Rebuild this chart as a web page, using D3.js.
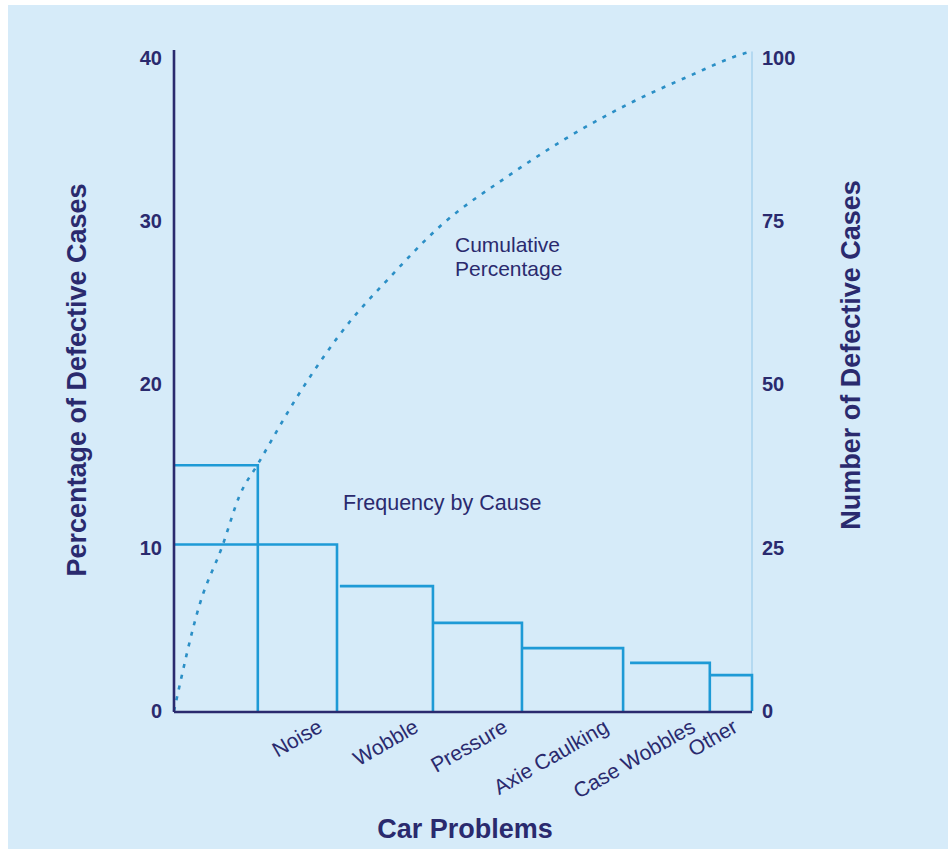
<!DOCTYPE html>
<html>
<head>
<meta charset="utf-8">
<script src="https://cdn.jsdelivr.net/npm/d3@7"></script>
<style>
  html, body { margin: 0; padding: 0; background: #ffffff; }
  svg { display: block; }
  text { font-family: "Liberation Sans", Arial, Helvetica, sans-serif; }
</style>
</head>
<body>
<div id="chart"></div>
<script>
// ---------- data ----------
const categories = ["", "Noise", "Wobble", "Pressure", "Axie Caulking", "Case Wobbles", "Other"];
const percentages = [15.05, 10.2, 7.65, 5.4, 3.85, 2.95, 2.2];           // left axis (%)
const binStart = [0, 0, 28.7, 44.8, 60.2, 78.9, 92.7];                  // share of axis width
const binEnd   = [14.5, 28.2, 44.8, 60.2, 77.7, 92.7, 100];
const cumX = [0, 4.5, 8.3, 11.4, 14.5, 21.3, 30.4, 36.9, 46.5, 57.6, 67.3, 79.4, 88.8, 99.1, 100];
const cumY = [0, 16.5, 25.1, 33.1, 37.8, 48.1, 59.6, 66.0, 74.6, 81.8, 87.4, 93.3, 97.1, 100.8, 101];
const leftTicks = [0, 10, 20, 30, 40];
const rightTicks = [0, 25, 50, 75, 100];

// ---------- layout ----------
const W = 948, H = 849;
const navy = "#2a2a6e";
const barBlue = "#1e9ad6";
const dotBlue = "#2b8fc6";
const bg = "#d6ebf9";

const svg = d3.select("#chart").append("svg").attr("width", W).attr("height", H);
svg.append("rect").attr("x", 8).attr("y", 5).attr("width", W - 8).attr("height", H - 5).attr("fill", bg);

const x = d3.scaleLinear().domain([0, 100]).range([174, 752]);
const yL = d3.scaleLinear().domain([0, 40]).range([711, 58]);
const yR = d3.scaleLinear().domain([0, 100]).range([711, 58]);

// right light axis line
svg.append("line")
  .attr("x1", x(100)).attr("x2", x(100))
  .attr("y1", yR(101)).attr("y2", yR(0))
  .attr("stroke", "#a9d3ee").attr("stroke-width", 1.5);

// bars (top line + right edge)
svg.append("g").selectAll("path").data(percentages).join("path")
  .attr("d", (d, i) => `M${x(binStart[i])},${yL(d)}H${x(binEnd[i])}V${yL(0)}`)
  .attr("fill", "none").attr("stroke", barBlue).attr("stroke-width", 2.6);

// cumulative curve
const line = d3.line().x((d, i) => x(cumX[i])).y(d => yR(d)).curve(d3.curveMonotoneX);
svg.append("path").datum(cumY)
  .attr("d", line)
  .attr("fill", "none").attr("stroke", dotBlue).attr("stroke-width", 2.6)
  .attr("stroke-dasharray", "4,7");

// axes lines
svg.append("line")
  .attr("x1", x(0)).attr("x2", x(0))
  .attr("y1", yL(40) - 8).attr("y2", yL(0) + 1)
  .attr("stroke", navy).attr("stroke-width", 2.6);
svg.append("line")
  .attr("x1", x(0)).attr("x2", x(100))
  .attr("y1", yL(0) + 1).attr("y2", yL(0) + 1)
  .attr("stroke", navy).attr("stroke-width", 2.6);

// left ticks
const gL = svg.append("g").attr("transform", `translate(${x(0) - 12},0)`)
  .call(d3.axisLeft(yL).tickValues(leftTicks).tickSize(0).tickPadding(0));
gL.select(".domain").remove();
gL.selectAll("text").attr("font-size", 20).attr("font-weight", "bold").attr("fill", navy)
  .style("font-family", "'Liberation Sans', Arial, sans-serif");

// right ticks
const gR = svg.append("g").attr("transform", `translate(${x(100) + 10},0)`)
  .call(d3.axisRight(yR).tickValues(rightTicks).tickSize(0).tickPadding(0));
gR.select(".domain").remove();
gR.selectAll("text").attr("font-size", 20).attr("font-weight", "bold").attr("fill", navy)
  .style("font-family", "'Liberation Sans', Arial, sans-serif");

// category labels
svg.append("g").selectAll("text").data(categories).join("text")
  .attr("transform", (d, i) => `translate(${x(binEnd[i]) - 13},${yL(0) + 20}) rotate(-30)`)
  .attr("text-anchor", "end")
  .attr("font-size", 21).attr("fill", navy)
  .text(d => d);

// axis titles
svg.append("text")
  .attr("x", 465).attr("y", 838)
  .attr("text-anchor", "middle").attr("font-size", 27).attr("font-weight", "bold").attr("fill", navy)
  .text("Car Problems");
svg.append("text")
  .attr("transform", `translate(86,380) rotate(-90)`)
  .attr("text-anchor", "middle").attr("font-size", 27).attr("font-weight", "bold").attr("fill", navy)
  .text("Percentage of Defective Cases");
svg.append("text")
  .attr("transform", `translate(860,355) rotate(-90)`)
  .attr("text-anchor", "middle").attr("font-size", 27).attr("font-weight", "bold").attr("fill", navy)
  .text("Number of Defective Cases");

// annotations
svg.append("text").attr("x", 343).attr("y", 510)
  .attr("font-size", 21.5).attr("fill", navy).text("Frequency by Cause");
const cum = svg.append("text").attr("x", 455).attr("y", 252).attr("font-size", 21).attr("fill", navy);
cum.append("tspan").attr("x", 455).text("Cumulative");
cum.append("tspan").attr("x", 455).attr("dy", 24).text("Percentage");
</script>
</body>
</html>
